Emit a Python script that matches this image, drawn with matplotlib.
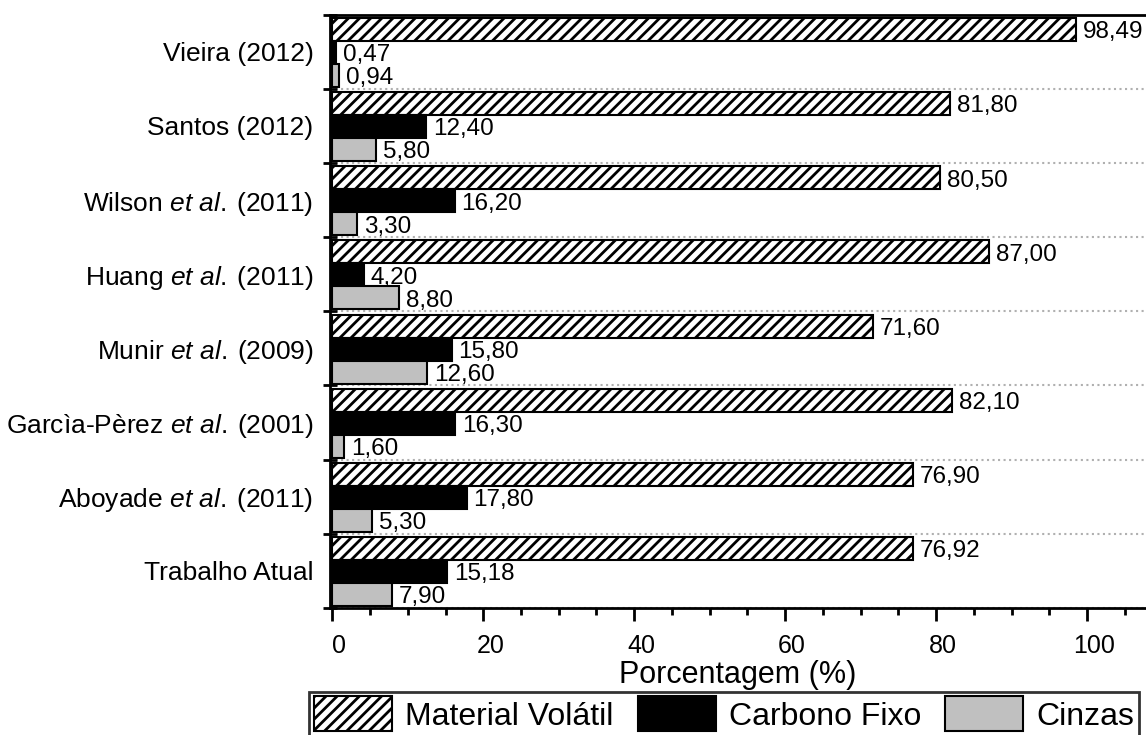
import numpy as np
import matplotlib
matplotlib.use("Agg")
import matplotlib.pyplot as plt
import matplotlib.transforms as mtransforms
from matplotlib.ticker import MultipleLocator, FixedLocator

plt.rcParams['font.family'] = ['Liberation Sans', 'DejaVu Sans']
plt.rcParams['mathtext.fontset'] = 'custom'
plt.rcParams['mathtext.rm'] = 'Liberation Sans'
plt.rcParams['mathtext.it'] = 'Liberation Sans:italic'
plt.rcParams['hatch.linewidth'] = 2.0

# dados (de cima para baixo)
etal = r'$\mathit{et\ al.}$' + '\u2009'
autores = ['Vieira (2012)', 'Santos (2012)', 'Wilson ' + etal + '(2011)',
           'Huang ' + etal + '(2011)', 'Munir ' + etal + '(2009)',
           'Garcìa-Pèrez ' + etal + '(2001)', 'Aboyade ' + etal + '(2011)',
           'Trabalho Atual']
volatil = [98.49, 81.80, 80.50, 87.00, 71.60, 82.10, 76.90, 76.92]
carbono = [0.47, 12.40, 16.20, 4.20, 15.80, 16.30, 17.80, 15.18]
cinzas = [0.94, 5.80, 3.30, 8.80, 12.60, 1.60, 5.30, 7.90]

fig = plt.figure(figsize=(11.46, 7.35), dpi=100)
ax = fig.add_axes([0.288, 0.173, 0.712, 0.807])

n = len(autores)
y = np.arange(n)[::-1]
h = 0.31

series = [
    (volatil, 0.30, dict(color='white', hatch='///'), 'Material Volátil'),
    (carbono, -0.01, dict(color='black'), 'Carbono Fixo'),
    (cinzas, -0.32, dict(color='#c0c0c0'), 'Cinzas'),
]
handles = []
for vals, off, estilo, nome in series:
    b = ax.barh(y + off, vals, height=h, edgecolor='black', linewidth=1.5,
                label=nome, **estilo)
    handles.append(b)
    for yy, v in zip(y + off, vals):
        ax.annotate('{:.2f}'.format(v).replace('.', ','), (v, yy),
                    xytext=(5, -2), textcoords='offset points',
                    va='center', ha='left', fontsize=17.5)

ax.set_xlim(-0.3, 107.8)
ax.set_ylim(-0.5, n - 0.5)
ax.xaxis.set_major_locator(MultipleLocator(20))
ax.xaxis.set_minor_locator(MultipleLocator(5))
ax.set_yticks(y)
ax.set_yticklabels(autores, fontsize=19)
ax.yaxis.set_minor_locator(FixedLocator(np.arange(n + 1) - 0.5))
ax.tick_params(axis='y', which='major', length=0, pad=12)
ax.tick_params(axis='y', which='minor', direction='inout', length=10, width=2)
ax.tick_params(axis='x', which='major', direction='out', length=9, width=2,
               labelsize=18, pad=10)
ax.tick_params(axis='x', which='minor', direction='out', length=5, width=2)
ax.grid(True, axis='y', which='minor', linestyle=':', color='#b0b0b0', linewidth=1.5)
ax.set_axisbelow(True)

# rotulos do eixo x levemente deslocados para a direita, como no original
desloc = mtransforms.ScaledTranslation(5 / 72, 0, fig.dpi_scale_trans)
for lbl in ax.get_xticklabels():
    lbl.set_transform(lbl.get_transform() + desloc)

for lado in ['left', 'bottom', 'top']:
    ax.spines[lado].set_linewidth(2)
ax.spines['right'].set_visible(False)

ax.set_xlabel('Porcentagem (%)', fontsize=22, labelpad=1)

leg = fig.legend(handles=handles, loc='upper left', bbox_to_anchor=(0.27, 0.059),
                 ncol=3, fontsize=23, frameon=True, fancybox=False,
                 handlelength=2.45, handleheight=1.3, borderpad=0.15,
                 columnspacing=0.75, handletextpad=0.4, borderaxespad=0)
leg.get_frame().set_edgecolor('black')
leg.get_frame().set_linewidth(2)

fig.savefig('out.png', dpi=100)
